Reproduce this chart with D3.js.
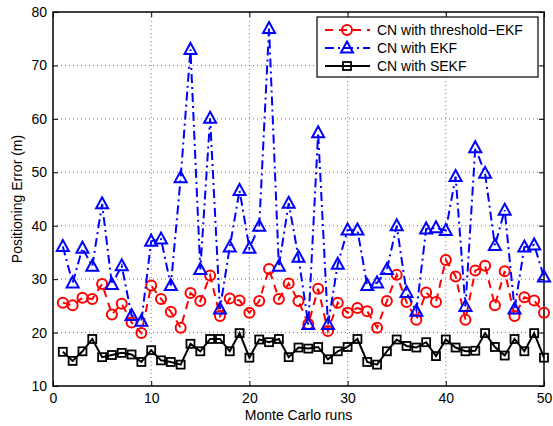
<!DOCTYPE html>
<html>
<head>
<meta charset="utf-8">
<script src="https://cdn.jsdelivr.net/npm/d3@7"></script>
<style>
  body { margin: 0; background: #fff; }
  svg { display: block; font-family: "Liberation Sans", Arial, sans-serif; }
</style>
</head>
<body>
<div id="chart"></div>
<script>
const runs = d3.range(1, 51);

const thresholdEkf = [25.6, 25.1, 26.5, 26.3, 29.1, 23.4, 25.4, 21.9, 19.9, 28.8,
    26.3, 23.9, 20.9, 27.4, 25.9, 30.7, 23.1, 26.4, 26.0, 23.7,
    25.9, 31.9, 26.3, 29.2, 25.9, 21.6, 28.2, 20.3, 25.6, 23.7,
    24.6, 24.0, 20.9, 25.9, 30.8, 25.7, 22.4, 27.5, 25.7, 33.6,
    30.5, 22.4, 31.6, 32.5, 25.1, 31.5, 23.1, 26.6, 26.0, 23.7];

const ekf = [36.1, 29.3, 35.8, 32.4, 44.1, 29.0, 32.5, 23.2, 22.1, 37.1,
    37.5, 28.8, 49.0, 73.0, 31.8, 60.1, 24.4, 36.0, 46.6, 35.8,
    39.9, 76.9, 32.4, 44.2, 34.1, 21.5, 57.4, 21.5, 32.8, 39.2,
    39.2, 28.8, 29.3, 31.8, 40.0, 27.5, 24.0, 39.4, 39.6, 39.1,
    49.2, 24.9, 54.6, 49.8, 36.3, 42.9, 24.4, 36.0, 36.4, 30.4];

const sekf = [16.4, 14.7, 16.5, 18.8, 15.4, 15.8, 16.2, 15.9, 14.5, 16.7,
    14.8, 14.5, 14.0, 17.9, 16.5, 18.8, 18.8, 16.5, 19.9, 15.3,
    18.7, 18.2, 18.8, 15.4, 17.2, 17.0, 17.3, 15.0, 16.5, 17.3,
    18.8, 14.5, 14.0, 16.5, 18.7, 17.5, 17.2, 18.2, 15.6, 18.7,
    17.2, 16.5, 16.6, 19.9, 17.3, 15.7, 18.8, 16.5, 19.9, 15.3];

const xTicks = [0, 10, 20, 30, 40, 50];
const yTicks = [10, 20, 30, 40, 50, 60, 70, 80];

const series = [
    { name: "CN with threshold\u2212EKF", values: thresholdEkf, color: "#ff0000", dash: "8,6", marker: "circle" },
    { name: "CN with EKF", values: ekf, color: "#0000ff", dash: "9,4,2,4", marker: "triangle" },
    { name: "CN with SEKF", values: sekf, color: "#000000", dash: null, marker: "square" }
];

const W = 553, H = 426;
const margin = { top: 12, right: 9, bottom: 40, left: 53 };

const svg = d3.select("#chart").append("svg")
    .attr("width", W).attr("height", H);

const x = d3.scaleLinear().domain([0, 50]).range([margin.left, W - margin.right]);
const y = d3.scaleLinear().domain([10, 80]).range([H - margin.bottom, margin.top]);

// grid (dotted)
const grid = svg.append("g").attr("stroke", "#555").attr("stroke-width", 0.8)
    .attr("stroke-dasharray", "1,3");
grid.selectAll("line.gx").data(xTicks.slice(1, -1)).join("line")
    .attr("x1", d => x(d)).attr("x2", d => x(d))
    .attr("y1", y(10)).attr("y2", y(80));
grid.selectAll("line.gy").data(yTicks.slice(1, -1)).join("line")
    .attr("x1", x(0)).attr("x2", x(50))
    .attr("y1", d => y(d)).attr("y2", d => y(d));

// axes with inward ticks
const tickLen = 5;
svg.append("g").attr("transform", `translate(0,${y(10)})`)
    .call(d3.axisBottom(x).tickValues(xTicks).tickSizeInner(-tickLen).tickSizeOuter(0).tickPadding(7))
    .call(g => g.select(".domain").remove());
svg.append("g").attr("transform", `translate(0,${y(80)})`)
    .call(d3.axisTop(x).tickValues(xTicks).tickSizeInner(-tickLen).tickSizeOuter(0))
    .call(g => g.select(".domain").remove())
    .call(g => g.selectAll("text").remove());
svg.append("g").attr("transform", `translate(${x(0)},0)`)
    .call(d3.axisLeft(y).tickValues(yTicks).tickSizeInner(-tickLen).tickSizeOuter(0).tickPadding(6))
    .call(g => g.select(".domain").remove());
svg.append("g").attr("transform", `translate(${x(50)},0)`)
    .call(d3.axisRight(y).tickValues(yTicks).tickSizeInner(-tickLen).tickSizeOuter(0))
    .call(g => g.select(".domain").remove())
    .call(g => g.selectAll("text").remove());

svg.selectAll(".tick text").attr("font-size", 14).attr("fill", "#000")
    .attr("font-family", "Liberation Sans, Arial, sans-serif");
svg.selectAll(".tick line").attr("stroke", "#000");

svg.append("rect")
    .attr("x", x(0)).attr("y", y(80))
    .attr("width", x(50) - x(0)).attr("height", y(10) - y(80))
    .attr("fill", "none").attr("stroke", "#000").attr("stroke-width", 1.5);

// lines and markers
const line = d3.line().x((d, i) => x(runs[i])).y(d => y(d));

function drawMarker(sel, type, color) {
    if (type === "circle") {
        sel.append("circle").attr("r", 5).attr("fill", "none")
            .attr("stroke", color).attr("stroke-width", 2);
    } else if (type === "triangle") {
        sel.append("path").attr("d", "M0,-6.5L6,4.5L-6,4.5Z").attr("fill", "none")
            .attr("stroke", color).attr("stroke-width", 2);
    } else {
        sel.append("rect").attr("x", -4).attr("y", -4).attr("width", 8).attr("height", 8)
            .attr("fill", "none").attr("stroke", color).attr("stroke-width", 1.8);
    }
}

series.forEach(s => {
    svg.append("path").datum(s.values)
        .attr("d", line).attr("fill", "none")
        .attr("stroke", s.color).attr("stroke-width", 2)
        .attr("stroke-dasharray", s.dash);
    svg.append("g").selectAll("g").data(s.values).join("g")
        .attr("transform", (d, i) => `translate(${x(runs[i])},${y(d)})`)
        .each(function () { drawMarker(d3.select(this), s.marker, s.color); });
});

// legend
const lg = svg.append("g");
lg.append("rect").attr("x", 317).attr("y", 17).attr("width", 221).attr("height", 60)
    .attr("fill", "#fff").attr("stroke", "#000").attr("stroke-width", 1.2);
series.forEach((s, i) => {
    const ly = 30 + i * 18;
    lg.append("line").attr("x1", 325).attr("x2", 370).attr("y1", ly).attr("y2", ly)
        .attr("stroke", s.color).attr("stroke-width", 2).attr("stroke-dasharray", s.dash);
    const m = lg.append("g").attr("transform", `translate(347,${ly})`);
    drawMarker(m, s.marker, s.color);
    lg.append("text").attr("x", 377).attr("y", ly).attr("dy", "0.36em")
        .attr("font-size", 14).text(s.name);
});

// axis titles
svg.append("text").attr("x", (x(0) + x(50)) / 2).attr("y", 420)
    .attr("text-anchor", "middle").attr("font-size", 14).text("Monte Carlo runs");
svg.append("text")
    .attr("transform", `translate(17,${(y(10) + y(80)) / 2}) rotate(-90)`)
    .attr("text-anchor", "middle").attr("dy", "0.36em").attr("font-size", 14)
    .text("Positioning Error (m)");
</script>
</body>
</html>
